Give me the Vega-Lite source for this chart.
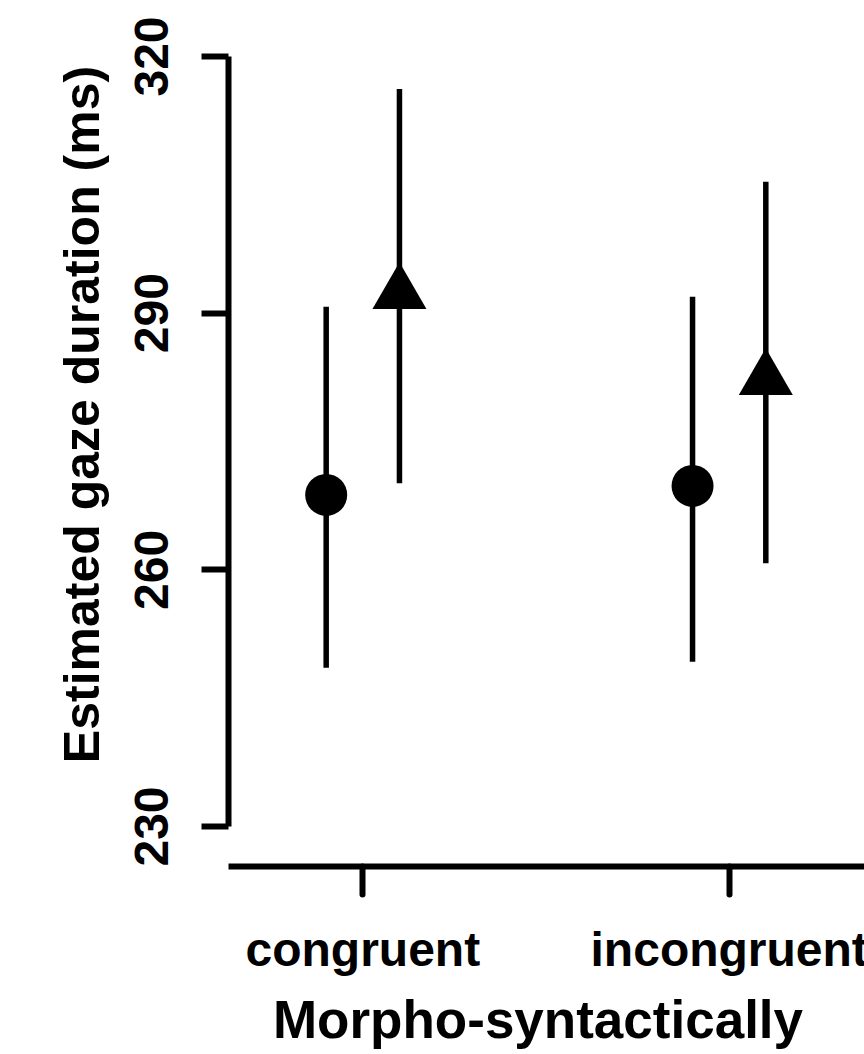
{
  "$schema": "https://vega.github.io/schema/vega-lite/v6.json",
  "autosize": {"type": "none"},
  "padding": {"left": 228, "top": 56, "right": 0, "bottom": 228},
  "width": 636,
  "height": 770,
  "background": "white",
  "config": {
    "view": {"stroke": null},
    "font": "Liberation Sans",
    "axis": {
      "domainColor": "black",
      "tickColor": "black",
      "labelColor": "black",
      "titleColor": "black",
      "labelFont": "Liberation Sans",
      "titleFont": "Liberation Sans",
      "labelFontWeight": "bold",
      "titleFontWeight": "bold",
      "grid": false,
      "labelLimit": 1000,
      "labelOverlap": false
    }
  },
  "data": {
    "values": [
      {"condition": "congruent", "series": "S1", "estimate": 268.7, "lower": 248.5, "upper": 290.7},
      {"condition": "congruent", "series": "S2", "estimate": 292.25, "lower": 270.05, "upper": 316.15},
      {"condition": "incongruent", "series": "S1", "estimate": 269.75, "lower": 249.2, "upper": 291.85},
      {"condition": "incongruent", "series": "S2", "estimate": 282.2, "lower": 260.7, "upper": 305.3}
    ]
  },
  "encoding": {
    "x": {
      "field": "condition",
      "type": "nominal",
      "sort": ["congruent", "incongruent"],
      "scale": {"type": "band", "paddingInner": 0.6, "paddingOuter": 0.168},
      "axis": {
        "title": "Morpho-syntactically",
        "labelAngle": 0,
        "labelFontSize": 48,
        "labelBaseline": "alphabetic",
        "labelAlign": "center",
        "labelPadding": 71,
        "offset": 40,
        "domainWidth": 6,
        "tickWidth": 6,
        "tickSize": 28,
        "tickCap": "round",
        "titleFontSize": 53,
        "titleAlign": "center",
        "titleBaseline": "alphabetic",
        "titleX": 309.5,
        "titleY": 171
      }
    },
    "xOffset": {
      "field": "series",
      "type": "nominal",
      "sort": ["S1", "S2"],
      "scale": {"type": "band", "paddingInner": 0, "paddingOuter": 0}
    }
  },
  "layer": [
    {
      "mark": {"type": "rule", "color": "black", "strokeWidth": 5.5, "strokeCap": "butt"},
      "encoding": {
        "y": {
          "field": "lower",
          "type": "quantitative",
          "scale": {"domain": [230, 320], "nice": false, "zero": false},
          "axis": {
            "title": "Estimated gaze duration (ms)",
            "values": [230, 260, 290, 320],
            "labelAngle": 270,
            "labelAlign": "center",
            "labelBaseline": "alphabetic",
            "labelFontSize": 48,
            "labelPadding": 34,
            "tickSize": 27,
            "tickWidth": 6,
            "domainWidth": 6,
            "titleFontSize": 50,
            "titleAngle": 270,
            "titleAlign": "center",
            "titleBaseline": "alphabetic",
            "titleX": -130,
            "titleY": 358
          }
        },
        "y2": {"field": "upper"}
      }
    },
    {
      "mark": {"type": "point", "filled": true, "color": "black", "opacity": 1, "strokeWidth": 0, "size": 1764},
      "encoding": {
        "y": {"field": "estimate", "type": "quantitative"},
        "shape": {
          "field": "series",
          "type": "nominal",
          "scale": {"domain": ["S1", "S2"], "range": ["circle", "M0,-1.486L1.286,0.743L-1.286,0.743Z"]},
          "legend": null
        }
      }
    }
  ]
}
